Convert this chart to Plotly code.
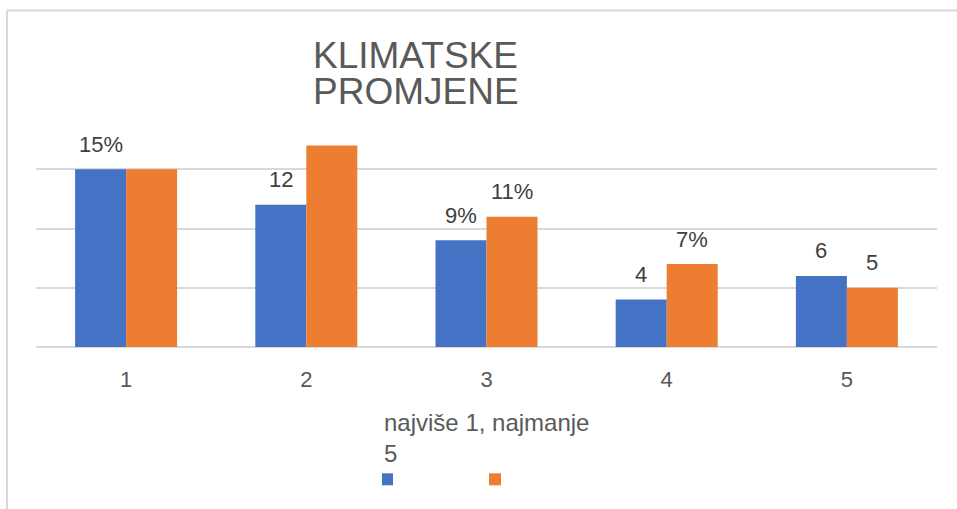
import plotly.graph_objects as go

categories = ["1", "2", "3", "4", "5"]
series_a = [15, 12, 9, 4, 6]
series_b = [15, 17, 11, 7, 5]
labels_a = ["15%", "12", "9%", "4", "6"]
labels_b = ["", "", "11%", "7%", "5"]
title_lines = ["KLIMATSKE", "PROMJENE"]
legend_title = "najviše 1, najmanje<br>5"

BLUE = "#4472C4"
ORANGE = "#ED7D31"
FONT = "Liberation Sans, Arial, sans-serif"

W, H = 957, 509
L, R, T, B = 36, 20, 110, 162
PW, PH = W - L - R, H - T - B

def px_x(px):
    return (px - L) / PW

def px_y(py):
    return (H - B - py) / PH

fig = go.Figure()
fig.add_trace(go.Bar(x=categories, y=series_a, name=" ", marker=dict(color=BLUE, line=dict(width=0))))
fig.add_trace(go.Bar(x=categories, y=series_b, name=" ", marker=dict(color=ORANGE, line=dict(width=0))))

annotations = []
for vals, labs, shift in ((series_a, labels_a, -25.5), (series_b, labels_b, 25.5)):
    for i, (v, t) in enumerate(zip(vals, labs)):
        if t:
            annotations.append(dict(x=i, y=v, xref="x", yref="y", text=t, showarrow=False,
                                    xshift=shift, yshift=25, yanchor="middle",
                                    font=dict(family=FONT, size=22, color="#404040")))

for i, line in enumerate(title_lines):
    annotations.append(dict(x=px_x(311), y=px_y(35 + 36 * i), xref="paper", yref="paper",
                            text=line, showarrow=False, xanchor="left", yanchor="top",
                            height=36, valign="middle",
                            font=dict(family=FONT, size=37, color="#595959")))

shapes = [
    dict(type="line", xref="paper", yref="paper", x0=px_x(7), x1=px_x(960), y0=px_y(10.5), y1=px_y(10.5),
         line=dict(color="#d9d9d9", width=2)),
    dict(type="line", xref="paper", yref="paper", x0=px_x(7), x1=px_x(7), y0=px_y(10.5), y1=px_y(515),
         line=dict(color="#d9d9d9", width=2)),
]

fig.update_layout(
    width=W, height=H,
    margin=dict(l=L, r=R, t=T, b=B, pad=0, autoexpand=False),
    paper_bgcolor="white", plot_bgcolor="white",
    barmode="group", bargap=0.434, bargroupgap=0,
    showlegend=True,
    legend=dict(orientation="h", x=px_x(382), y=px_y(400), xanchor="left", yanchor="top",
                entrywidth=78, entrywidthmode="pixels", indentation=-15,
                title=dict(text=legend_title, side="top",
                           font=dict(family=FONT, size=24, color="#595959")),
                font=dict(family=FONT, size=16, color="#595959"),
                bgcolor="rgba(0,0,0,0)"),
    xaxis=dict(type="category", showgrid=False, showline=False, zeroline=False,
               ticks="", ticklabelstandoff=17,
               tickfont=dict(family=FONT, size=22, color="#595959")),
    yaxis=dict(range=[0, 20], dtick=5, showticklabels=False, showgrid=True,
               gridcolor="#d9d9d9", gridwidth=2, zeroline=True, zerolinecolor="#d9d9d9",
               zerolinewidth=2, showline=False, fixedrange=True),
    annotations=annotations,
    shapes=shapes,
    font=dict(family=FONT),
)

fig.write_html("out.html", config={"displayModeBar": False},
               post_script="document.body.style.margin='0';document.body.style.overflow='hidden';")
